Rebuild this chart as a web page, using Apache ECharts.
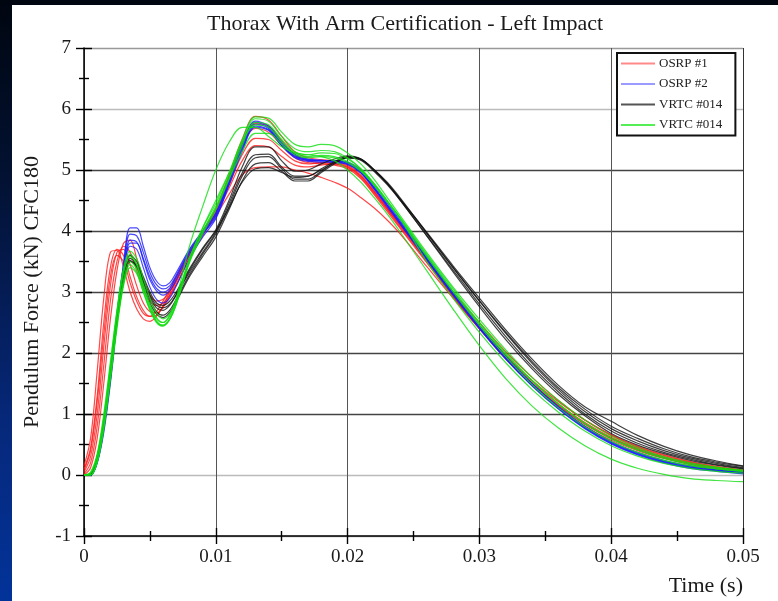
<!DOCTYPE html>
<html>
<head>
<meta charset="utf-8">
<script src="https://cdn.jsdelivr.net/npm/echarts@6/dist/echarts.min.js"></script>
<style>
html,body{margin:0;padding:0;width:778px;height:601px;overflow:hidden;}
body{background:linear-gradient(to bottom,#000610 0%,#031233 30%,#06287a 70%,#023399 100%);}
#panel{position:absolute;left:12px;top:5px;width:766px;height:596px;background:#fff;}
#chart{position:absolute;left:0;top:0;width:778px;height:601px;}
</style>
</head>
<body>
<div id="panel"></div>
<div id="chart"></div>
<script>
// time samples (s)
const times = [0,0.0005,0.001,0.0015,0.002,0.0025,0.003,0.0035,0.004,0.0045,0.005,0.0055,0.006,0.0065,0.007,0.008,0.009,0.010,0.011,0.012,0.013,0.014,0.015,0.016,0.017,0.018,0.019,0.020,0.021,0.022,0.023,0.024,0.026,0.028,0.030,0.032,0.034,0.036,0.038,0.040,0.042,0.044,0.046,0.048,0.050];

// OSRP #1 (red) traces, kN
const osrp1 = [
 [0.15,0.6,1.7,2.9,3.65,3.68,3.4,3.0,2.72,2.56,2.52,2.6,2.78,3.0,3.22,3.65,4.0,4.35, 4.9,5.5,5.88,5.82,5.55,5.3,5.2,5.17,5.15,5.08,4.92,4.66,4.38,4.1, 3.52,2.95,2.42,1.92,1.5,1.13,0.83,0.6,0.42,0.28,0.18,0.11,0.06],
 [0.1,0.45,1.3,2.5,3.4,3.7,3.6,3.25,2.92,2.7,2.6,2.62,2.76,2.95,3.17,3.6,3.98,4.35, 4.85,5.4,5.68,5.62,5.4,5.2,5.12,5.1,5.08,5.02,4.86,4.6,4.32,4.04, 3.48,2.92,2.4,1.92,1.5,1.14,0.84,0.6,0.42,0.29,0.19,0.12,0.07],
 [0.05,0.3,1.0,2.1,3.1,3.65,3.7,3.45,3.1,2.82,2.68,2.66,2.75,2.92,3.12,3.55,3.95,4.3, 4.75,5.25,5.52,5.5,5.32,5.15,5.1,5.12,5.12,5.06,4.9,4.64,4.36,4.08, 3.52,2.97,2.45,1.96,1.53,1.16,0.86,0.62,0.44,0.3,0.2,0.12,0.07],
 [0.02,0.2,0.8,1.8,2.85,3.5,3.75,3.65,3.35,3.05,2.85,2.78,2.82,2.95,3.12,3.55,3.92,4.28, 4.7,5.15,5.4,5.38,5.22,5.08,5.05,5.08,5.1,5.05,4.9,4.65,4.38,4.1, 3.55,3.0,2.5,2.02,1.6,1.22,0.9,0.65,0.46,0.32,0.21,0.13,0.08],
 [0.0,0.12,0.6,1.5,2.55,3.35,3.8,3.85,3.55,3.2,2.95,2.85,2.88,3.0,3.18,3.6,3.98,4.35, 4.9,5.45,5.76,5.72,5.48,5.25,5.15,5.12,5.1,5.04,4.88,4.62,4.35,4.06, 3.5,2.93,2.4,1.9,1.47,1.1,0.8,0.57,0.4,0.27,0.17,0.1,0.05],
 [0.08,0.4,1.2,2.3,3.25,3.6,3.5,3.15,2.85,2.65,2.6,2.68,2.85,3.05,3.25,3.65,3.98,4.25, 4.6,4.92,5.04,5.05,5.05,5.0,4.95,4.88,4.8,4.7,4.55,4.38,4.18,3.95, 3.42,2.9,2.4,1.95,1.55,1.2,0.9,0.66,0.47,0.33,0.22,0.14,0.08]
];

// OSRP #2 (blue) traces, kN
const osrp2 = [
 [0,0.0,0.2,0.7,1.5,2.5,3.45,4.05,4.05,3.75,3.4,3.18,3.1,3.15,3.32,3.7,4.0,4.3, 4.85,5.42,5.8,5.72,5.46,5.26,5.18,5.16,5.15,5.12,4.97,4.72,4.43,4.14, 3.55,2.97,2.42,1.92,1.48,1.1,0.78,0.53,0.35,0.22,0.13,0.08,0.04],
 [0,0.0,0.25,0.8,1.6,2.6,3.45,3.95,3.92,3.65,3.32,3.12,3.05,3.1,3.28,3.68,3.98,4.28, 4.82,5.4,5.78,5.7,5.44,5.24,5.17,5.15,5.14,5.1,4.96,4.7,4.42,4.13, 3.54,2.96,2.41,1.91,1.47,1.09,0.77,0.52,0.34,0.21,0.12,0.07,0.03],
 [0,0.01,0.3,0.85,1.7,2.65,3.4,3.85,3.82,3.55,3.25,3.06,3.0,3.06,3.25,3.65,3.95,4.25, 4.8,5.36,5.75,5.68,5.42,5.22,5.16,5.15,5.14,5.11,4.97,4.71,4.42,4.13, 3.55,2.98,2.43,1.93,1.49,1.11,0.79,0.54,0.36,0.23,0.14,0.08,0.04],
 [0,0.0,0.2,0.75,1.55,2.5,3.3,3.8,3.8,3.52,3.2,3.02,2.95,3.02,3.2,3.62,3.95,4.22, 4.78,5.33,5.72,5.66,5.4,5.2,5.14,5.13,5.12,5.09,4.95,4.69,4.4,4.11, 3.52,2.95,2.4,1.9,1.46,1.08,0.76,0.51,0.33,0.2,0.11,0.06,0.02],
 [0,0.0,0.22,0.8,1.6,2.55,3.3,3.75,3.7,3.4,3.08,2.88,2.82,2.9,3.1,3.55,3.9,4.2, 4.75,5.3,5.7,5.65,5.4,5.22,5.16,5.16,5.15,5.13,5.0,4.75,4.46,4.17, 3.58,3.0,2.45,1.95,1.5,1.12,0.8,0.55,0.37,0.24,0.15,0.09,0.05]
];

// VRTC #014 (black) traces, kN
const vrtcBlack = [
 [0,0.02,0.3,0.9,1.75,2.6,3.3,3.6,3.5,3.25,3.0,2.82,2.78,2.85,3.0,3.38,3.72,4.02, 4.5,5.05,5.38,5.38,5.15,4.98,5.0,5.1,5.18,5.23,5.18,5.0,4.78,4.52, 3.98,3.43,2.9,2.38,1.9,1.47,1.12,0.88,0.65,0.47,0.33,0.23,0.15],
 [0,0.02,0.28,0.85,1.7,2.55,3.22,3.55,3.45,3.18,2.92,2.74,2.7,2.78,2.95,3.32,3.65,3.98, 4.45,4.95,5.25,5.26,5.05,4.9,4.9,5.02,5.14,5.22,5.18,5.0,4.78,4.52, 3.96,3.4,2.86,2.34,1.86,1.43,1.08,0.8,0.6,0.43,0.3,0.21,0.14],
 [0,0.01,0.25,0.8,1.62,2.48,3.15,3.5,3.42,3.15,2.88,2.68,2.62,2.7,2.88,3.28,3.62,3.95, 4.4,4.9,5.2,5.22,5.02,4.85,4.85,4.98,5.12,5.21,5.18,5.01,4.8,4.54, 3.97,3.4,2.85,2.32,1.83,1.4,1.04,0.76,0.56,0.4,0.28,0.19,0.12],
 [0,0.02,0.3,0.88,1.72,2.56,3.2,3.52,3.4,3.1,2.82,2.64,2.58,2.66,2.84,3.25,3.58,3.9, 4.35,4.82,5.1,5.12,4.98,4.82,4.82,4.96,5.1,5.2,5.17,5.0,4.78,4.5, 3.93,3.36,2.8,2.27,1.78,1.36,1.0,0.72,0.52,0.37,0.26,0.17,0.11],
 [0,0.01,0.26,0.82,1.66,2.5,3.18,3.5,3.44,3.2,2.95,2.78,2.74,2.8,2.96,3.35,3.7,4.0, 4.38,4.8,5.02,5.04,4.96,4.88,4.9,5.0,5.12,5.2,5.16,4.98,4.76,4.5, 3.92,3.33,2.76,2.22,1.74,1.32,0.97,0.68,0.49,0.35,0.24,0.16,0.1]
];

// VRTC #014 (green) traces, kN
const vrtcGreen = [
 [0,0.05,0.35,1.0,1.85,2.7,3.35,3.62,3.45,3.1,2.78,2.56,2.5,2.62,2.9,3.75,4.4,5.0, 5.45,5.7,5.7,5.55,5.38,5.28,5.25,5.22,5.15,5.0,4.8,4.55,4.28,3.98, 3.35,2.72,2.12,1.58,1.13,0.77,0.48,0.26,0.11,0.01,-0.06,-0.09,-0.11],
 [0,0.02,0.3,0.9,1.75,2.6,3.3,3.58,3.45,3.12,2.8,2.58,2.5,2.6,2.85,3.55,4.05,4.45, 4.95,5.5,5.87,5.85,5.62,5.42,5.38,5.42,5.4,5.28,5.1,4.85,4.55,4.25, 3.65,3.08,2.55,2.05,1.6,1.22,0.9,0.64,0.45,0.3,0.2,0.13,0.08],
 [0,0.0,0.25,0.82,1.65,2.5,3.2,3.5,3.38,3.05,2.74,2.52,2.45,2.55,2.8,3.5,4.0,4.4, 4.9,5.45,5.84,5.8,5.55,5.35,5.3,5.32,5.3,5.2,5.02,4.78,4.5,4.2, 3.6,3.02,2.48,1.98,1.54,1.16,0.84,0.59,0.41,0.27,0.17,0.1,0.06],
 [0,0.0,0.22,0.78,1.6,2.45,3.15,3.45,3.32,3.0,2.7,2.5,2.44,2.55,2.8,3.48,3.95,4.35, 4.85,5.4,5.78,5.74,5.5,5.3,5.25,5.28,5.27,5.18,5.02,4.78,4.5,4.22, 3.62,3.05,2.5,2.0,1.55,1.17,0.85,0.6,0.42,0.28,0.18,0.12,0.07],
 [0,0.03,0.32,0.95,1.8,2.68,3.4,3.67,3.55,3.22,2.9,2.66,2.56,2.64,2.88,3.55,4.05,4.5, 4.95,5.45,5.74,5.7,5.46,5.28,5.22,5.24,5.22,5.14,5.0,4.76,4.48,4.2, 3.58,3.0,2.45,1.94,1.48,1.1,0.79,0.55,0.37,0.24,0.15,0.1,0.06],
 [0,0.0,0.2,0.75,1.55,2.4,3.1,3.4,3.3,3.0,2.72,2.52,2.46,2.56,2.82,3.5,3.98,4.38, 4.85,5.3,5.6,5.6,5.42,5.25,5.2,5.22,5.2,5.12,4.98,4.75,4.48,4.2, 3.5,2.9,2.34,1.84,1.4,1.03,0.72,0.48,0.31,0.19,0.11,0.06,0.03]
];

const groupNames = ['OSRP #1', 'OSRP #2', 'VRTC #014', 'VRTC #014 '];
const yTicks = [-1, 0, 1, 2, 3, 4, 5, 6, 7];
const xTicks = [0, 0.01, 0.02, 0.03, 0.04, 0.05];

const groups = [
  {name: groupNames[0], traces: osrp1, color: '#ff1a1a', legend: '#ff8a8a'},
  {name: groupNames[1], traces: osrp2, color: '#1a1aff', legend: '#9a9aff'},
  {name: groupNames[2], traces: vrtcBlack, color: '#111111', legend: '#555555'},
  {name: groupNames[3], traces: vrtcGreen, color: '#12dd12', legend: '#55ee55'}
];

const series = [];
groups.forEach(g => {
  g.traces.forEach(tr => {
    series.push({
      type: 'line', name: g.name, xAxisIndex: 0, yAxisIndex: 0,
      data: times.map((t, i) => [t, tr[i]]),
      symbol: 'none', smooth: 0.35,
      lineStyle: {width: 1.2, color: g.color, opacity: 0.8},
      itemStyle: {color: g.color},
      emphasis: {disabled: true},
      silent: true, z: 3
    });
  });
});

const serif = 'Liberation Serif';
const tickStyle = {color: '#000', width: 1.4};
const yBase = {type: 'value', min: yTicks[0], max: yTicks[yTicks.length - 1], interval: 1, position: 'left'};
const xBase = {type: 'value', min: xTicks[0], max: xTicks[xTicks.length - 1], interval: 0.01, position: 'bottom'};

const chart = echarts.init(document.getElementById('chart'), null, {renderer: 'canvas'});
chart.setOption({
  animation: false,
  backgroundColor: 'transparent',
  title: {
    text: 'Thorax With Arm Certification - Left Impact',
    left: 207, top: 13, padding: 0,
    textStyle: {fontFamily: serif, fontSize: 22, fontWeight: 'normal', color: '#1a1a1a'}
  },
  grid: {left: 84, right: 35, top: 48, bottom: 65, containLabel: false},
  legend: {
    orient: 'vertical', left: 617, top: 53,
    padding: [4, 10, 4, 4], itemGap: 7.5, itemWidth: 34, itemHeight: 12,
    backgroundColor: '#fff', borderColor: '#111', borderWidth: 2,
    selectedMode: false,
    textStyle: {fontFamily: serif, fontSize: 13, color: '#222', padding: [0, 0, 0, -1]},
    data: groups.map(g => ({
      name: g.name,
      icon: 'path://M0,0H17V1H0Z',
      itemStyle: {color: g.legend}
    }))
  },
  xAxis: [
    Object.assign({}, xBase, {
      name: 'Time (s)', nameLocation: 'end', nameGap: 0,
      nameTextStyle: {fontFamily: serif, fontSize: 22, color: '#1a1a1a', align: 'right', verticalAlign: 'top', padding: [39, 0, 0, 0]},
      axisLine: {onZero: false, lineStyle: {color: '#000', width: 1.5}},
      axisTick: {show: true, inside: false, length: 8, lineStyle: tickStyle},
      minorTick: {show: true, splitNumber: 2, length: 5, lineStyle: tickStyle},
      axisLabel: {fontFamily: serif, fontSize: 19, color: '#1a1a1a', margin: 12},
      splitLine: {show: true, lineStyle: {color: ['#555', '#555', '#555', '#555', '#555', '#333'], width: 1}}
    }),
    Object.assign({}, xBase, {
      axisLine: {show: false, onZero: false},
      axisTick: {show: true, inside: true, length: 8, lineStyle: tickStyle},
      minorTick: {show: true, splitNumber: 2, length: 5, lineStyle: tickStyle},
      axisLabel: {show: false}, splitLine: {show: false}
    })
  ],
  yAxis: [
    Object.assign({}, yBase, {
      name: 'Pendulum Force (kN) CFC180', nameLocation: 'middle', nameGap: 41,
      nameTextStyle: {fontFamily: serif, fontSize: 22, color: '#1a1a1a'},
      axisLine: {onZero: false, lineStyle: {color: '#000', width: 1.5}},
      axisTick: {show: true, inside: false, length: 8, lineStyle: tickStyle},
      minorTick: {show: true, splitNumber: 2, length: 5, lineStyle: tickStyle},
      axisLabel: {fontFamily: serif, fontSize: 19, color: '#1a1a1a', margin: 13},
      splitLine: {show: true, lineStyle: {color: ['#aaa', '#bbb', '#444', '#444', '#444', '#444', '#444', '#bbb', '#999'], width: 1.3}}
    }),
    Object.assign({}, yBase, {
      axisLine: {show: false, onZero: false},
      axisTick: {show: true, inside: true, length: 8, lineStyle: tickStyle},
      minorTick: {show: true, splitNumber: 2, length: 5, lineStyle: tickStyle},
      axisLabel: {show: false}, splitLine: {show: false}
    })
  ],
  series: series
});
</script>
</body>
</html>
